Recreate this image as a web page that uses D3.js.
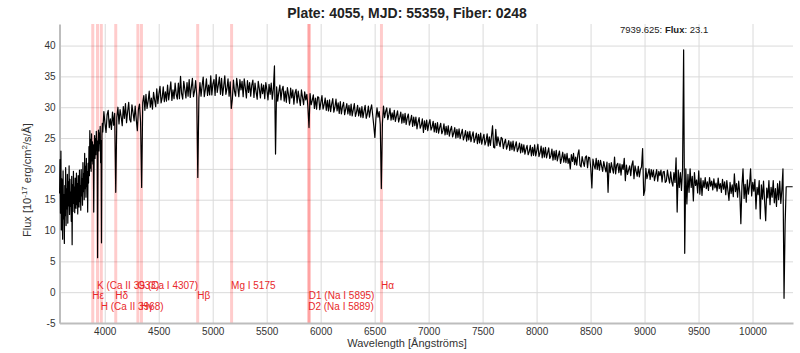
<!DOCTYPE html>
<html>
<head>
<meta charset="utf-8">
<script src="https://cdn.jsdelivr.net/npm/d3@7"></script>
<style>
  body { margin: 0; background: #fff; }
  svg { display: block; font-family: "Liberation Sans", Arial, sans-serif; }
</style>
</head>
<body>
<div id="chart"></div>
<script>
// blue end, sampled finer (Å): wave = blueWave0 + i * blueStep
const blueWave0 = 3582, blueStep = 4;
const blueFlux = [
  16.0, 21.5, 12.8, 22.9, 10.1, 18.4, 13.2, 8.6, 19.7, 11.9,
  15.8, 7.9, 17.3, 12.4, 20.2, 10.8, 16.7, 13.5, 19.1, 11.2,
  17.9, 14.0, 20.5, 12.6, 18.3, 13.9, 16.2, 11.5, 18.8, 7.7,
  17.4, 13.1, 19.6, 14.4, 17.0, 12.9, 18.5, 15.1, 13.6, 19.3,
  14.2, 17.6, 12.7, 18.9, 15.5, 13.8, 19.8, 14.7, 17.2, 13.3,
  19.9, 15.6, 18.4, 14.1, 21.0, 16.3, 19.2, 15.0, 22.5, 16.8,
  20.4, 15.4, 21.7, 17.1, 19.5, 13.0, 20.9, 17.7, 23.6, 18.9,
  26.2, 20.1, 24.8, 19.6, 25.7, 21.3, 24.4, 20.8, 23.9, 13.0,
  22.6, 25.4, 21.7, 24.9, 22.3, 26.1, 23.0, 24.5, 5.6, 23.8,
  26.3, 22.9, 25.8, 24.1, 26.9, 21.0, 24.6, 8.0, 25.3, 27.4
];

// rest of the spectrum (Å): wave = wave0 + i * dWave
const wave0 = 3982, dWave = 10;

// flux [1e-17 erg/cm2/s/Å], one row per 100 Å
const flux = [
  26.0, 29.3, 27.4, 25.9, 28.8, 29.5, 26.7, 28.1, 26.4, 29.2,
  27.1, 29.0, 16.2, 28.4, 30.0, 27.3, 29.6, 28.5, 27.0, 30.1,
  28.2, 30.6, 27.5, 29.3, 30.8, 28.0, 27.6, 30.4, 29.1, 27.8,
  30.2, 28.0, 26.2, 29.7, 30.5, 27.6, 17.0, 30.8, 31.9, 29.5,
  32.1, 29.8, 31.0, 32.6, 30.0, 31.5, 29.7, 32.4, 31.2, 30.1,
  33.0, 30.6, 32.2, 33.4, 30.7, 31.5, 33.3, 30.9, 32.5, 31.0,
  33.6, 31.2, 32.6, 34.1, 31.1, 32.8, 31.4, 33.9, 32.1, 31.3,
  33.9, 31.4, 35.0, 32.2, 31.3, 34.2, 32.9, 31.5, 34.0, 31.8,
  34.5, 31.6, 33.2, 34.7, 31.7, 32.6, 34.3, 31.9, 18.6, 31.5,
  34.0, 31.8, 33.5, 34.9, 31.7, 32.9, 34.6, 31.9, 33.6, 32.0,
  35.1, 32.0, 33.8, 34.5, 31.9, 35.3, 32.4, 33.6, 34.9, 32.1,
  34.7, 31.9, 33.4, 35.1, 32.1, 33.0, 34.6, 31.8, 34.1, 29.8,
  31.3, 34.4, 32.6, 31.8, 34.7, 33.3, 31.7, 34.5, 32.8, 34.2,
  31.7, 34.6, 33.2, 31.5, 34.3, 32.4, 34.0, 31.8, 33.6, 34.4,
  31.6, 33.9, 32.5, 31.3, 34.2, 33.0, 31.5, 33.8, 32.2, 33.6,
  31.4, 34.0, 32.8, 31.2, 33.7, 32.1, 33.9, 31.3, 33.0, 36.7,
  22.4, 33.3, 31.0, 32.4, 33.6, 31.2, 32.8, 33.4, 31.0, 32.6,
  30.8, 33.2, 32.0, 30.6, 33.1, 31.5, 32.8, 30.5, 32.3, 32.9,
  30.7, 32.6, 31.4, 30.3, 32.8, 31.6, 30.4, 32.5, 31.2, 32.1,
  30.0, 26.7, 32.2, 30.4, 31.1, 32.0, 29.8, 31.5, 29.7, 31.7,
  31.6, 29.6, 30.8, 31.9, 29.7, 30.4, 31.5, 29.5, 31.1, 29.4,
  31.2, 29.3, 30.5, 31.4, 29.2, 30.0, 31.3, 29.4, 30.7, 29.0,
  30.9, 28.9, 30.1, 30.8, 28.8, 29.7, 30.6, 28.9, 30.3, 28.7,
  30.5, 28.6, 29.6, 30.6, 28.5, 29.2, 30.3, 28.6, 29.9, 28.4,
  30.1, 28.3, 29.4, 30.3, 28.2, 28.9, 30.2, 28.4, 29.6, 30.4,
  28.7, 27.0, 25.1, 28.2, 29.9, 28.4, 29.3, 27.2, 16.8, 27.4,
  30.2, 28.3, 29.3, 29.9, 28.0, 28.8, 29.8, 27.9, 29.1, 28.0,
  29.5, 27.7, 28.6, 29.4, 27.6, 28.3, 29.2, 27.4, 28.9, 27.5,
  29.0, 27.2, 28.3, 28.9, 27.1, 27.8, 28.7, 26.9, 28.4, 27.0,
  28.4, 26.5, 27.6, 28.3, 26.6, 27.1, 28.1, 25.9, 27.8, 26.4,
  27.9, 26.2, 27.3, 28.0, 26.3, 26.8, 27.7, 26.0, 27.4, 25.9,
  27.5, 25.8, 26.7, 27.4, 25.7, 26.2, 27.3, 25.5, 26.9, 25.6,
  27.0, 25.3, 26.3, 26.9, 25.2, 25.8, 26.7, 25.0, 26.4, 25.1,
  26.5, 24.9, 25.7, 26.4, 24.7, 25.3, 26.2, 24.5, 26.0, 24.7,
  26.1, 24.4, 25.3, 26.0, 24.3, 24.9, 25.8, 24.1, 25.6, 24.2,
  25.8, 24.0, 24.9, 25.6, 23.9, 24.5, 25.7, 23.7, 25.2, 23.8,
  25.3, 27.0, 23.5, 23.4, 26.4, 23.8, 25.2, 24.4, 23.6, 25.1,
  24.9, 23.3, 24.2, 24.8, 23.2, 23.8, 24.6, 23.0, 24.4, 23.1,
  24.5, 22.9, 23.7, 24.4, 22.8, 23.3, 24.2, 22.6, 24.0, 22.7,
  23.9, 22.4, 23.2, 23.8, 22.3, 22.8, 23.8, 22.1, 23.5, 22.2,
  23.9, 22.1, 23.0, 24.0, 22.0, 22.6, 23.7, 21.8, 23.4, 21.9,
  23.5, 21.8, 22.6, 23.4, 21.7, 22.1, 23.2, 21.4, 22.9, 21.5,
  23.0, 21.3, 22.2, 22.9, 20.9, 21.7, 22.7, 21.1, 22.4, 21.0,
  22.5, 20.9, 21.7, 20.0, 22.3, 21.2, 22.5, 20.7, 21.9, 20.6,
  22.3, 23.1, 20.6, 20.3, 22.0, 21.1, 20.4, 21.9, 22.1, 20.2,
  21.9, 21.8, 20.1, 16.9, 21.6, 20.6, 20.0, 21.7, 19.9, 21.4,
  19.8, 21.4, 20.5, 19.6, 21.2, 20.3, 19.5, 21.1, 16.2, 20.9,
  19.4, 21.0, 20.1, 19.3, 21.9, 19.2, 20.6, 20.9, 19.4, 20.8,
  19.0, 20.7, 19.9, 21.7, 18.1, 20.6, 19.1, 19.8, 20.5, 18.9,
  20.6, 21.3, 18.4, 20.5, 19.6, 18.8, 20.4, 18.7, 19.9, 20.3,
  23.3, 15.7, 16.5, 20.1, 18.4, 19.2, 20.0, 18.3, 19.9, 18.7,
  19.8, 18.1, 19.0, 19.9, 18.0, 19.6, 18.9, 19.8, 17.9, 19.5,
  19.6, 17.8, 18.0, 19.8, 18.6, 17.7, 19.5, 17.9, 17.2, 19.4,
  17.8, 21.8, 13.0, 19.8, 17.0, 19.4, 16.5, 20.0, 39.3, 6.3,
  20.0, 14.3, 19.1, 16.2, 20.0, 17.0, 18.8, 14.8, 19.4, 17.3,
  18.2, 16.1, 19.7, 15.9, 18.5, 15.7, 18.1, 17.0, 18.6, 16.8,
  17.9, 16.5, 18.6, 17.2, 18.0, 16.6, 18.4, 16.9, 17.7, 16.4,
  18.5, 16.8, 17.6, 16.2, 18.3, 16.7, 17.9, 15.8, 18.1, 16.5,
  14.9, 17.8, 16.0, 17.4, 15.5, 19.2, 16.3, 17.6, 15.4, 18.0,
  16.1, 11.1, 17.2, 20.0, 15.2, 17.5, 14.6, 18.2, 15.9, 17.3,
  20.0, 15.6, 17.8, 16.4, 18.3, 13.5, 17.0, 15.8, 18.1, 11.9,
  17.4, 15.1, 18.0, 14.7, 11.6, 16.9, 15.3, 18.1, 14.2, 17.0,
  15.4, 18.1, 14.5, 16.8, 13.9, 17.6, 15.0, 18.0, 14.4, 16.6,
  20.0, -1.0, 11.1, 17.1, 17.1, 17.1, 17.1, 17.1, 17.1, 17.1
];

// marked spectral lines
const lineNames = ["H\u03b5", "K (Ca II 3933)", "H (Ca II 3968)", "H\u03b4", "G (Ca I 4307)", "H\u03b3",
                   "H\u03b2", "Mg I 5175", "D2 (Na I 5889)", "D1 (Na I 5895)", "H\u03b1"];
const lineWaves = [3889, 3933, 3968, 4102, 4307, 4340, 4861, 5175, 5889, 5895, 6563];

const xTicks = [4000, 4500, 5000, 5500, 6000, 6500, 7000, 7500, 8000, 8500, 9000, 9500, 10000];
const yTicks = [-5, 0, 5, 10, 15, 20, 25, 30, 35, 40];

const W = 800, H = 353;
const m = {top: 24, right: 7, bottom: 30, left: 59.5};

const data = blueFlux.map((f, i) => ({w: blueWave0 + i * blueStep, f}))
  .concat(flux.map((f, i) => ({w: wave0 + i * dWave, f})));

const x = d3.scaleLinear().domain([3581, 10375]).range([m.left, W - m.right]);
const y = d3.scaleLinear().domain([-5, 43.5]).range([H - m.bottom, m.top]);

const svg = d3.select("#chart").append("svg")
    .attr("width", W)
    .attr("height", H);

// grid
svg.append("g")
    .attr("transform", `translate(0,${H - m.bottom})`)
    .call(d3.axisBottom(x).tickValues(xTicks).tickSize(-(H - m.top - m.bottom)).tickFormat(""))
    .call(g => g.select(".domain").remove())
    .call(g => g.selectAll("line").attr("stroke", "#dadada"));

svg.append("g")
    .attr("transform", `translate(${m.left},0)`)
    .call(d3.axisLeft(y).tickValues(yTicks).tickSize(-(W - m.left - m.right)).tickFormat(""))
    .call(g => g.select(".domain").remove())
    .call(g => g.selectAll("line").attr("stroke", "#dadada"));

// line markers
svg.append("g")
  .selectAll("rect")
  .data(lineWaves)
  .join("rect")
    .attr("x", d => x(d) - 1.5)
    .attr("y", m.top)
    .attr("width", 3)
    .attr("height", H - m.top - m.bottom)
    .attr("fill", "rgba(255,0,0,0.2)");

// axes
svg.append("g")
    .attr("transform", `translate(0,${H - m.bottom})`)
    .call(d3.axisBottom(x).tickValues(xTicks).tickFormat(d => String(d)).tickSize(0).tickPadding(5).tickSizeOuter(0))
    .call(g => g.select(".domain").attr("stroke", "#bdbdbd").attr("stroke-width", 2))
    .call(g => g.selectAll("text").attr("font-size", 10).attr("fill", "#333").attr("font-family", null));

svg.append("g")
    .attr("transform", `translate(${m.left},0)`)
    .call(d3.axisLeft(y).tickValues(yTicks).tickFormat(d => String(d)).tickSize(0).tickPadding(4).tickSizeOuter(0))
    .call(g => g.select(".domain").attr("stroke", "#bdbdbd").attr("stroke-width", 2))
    .call(g => g.selectAll("text").attr("font-size", 10).attr("fill", "#333").attr("font-family", null));

// spectrum
svg.append("path")
    .datum(data)
    .attr("fill", "none")
    .attr("stroke", "#000")
    .attr("stroke-width", 1.2)
    .attr("stroke-linejoin", "round")
    .attr("d", d3.line().x(d => x(d.w)).y(d => y(d.f)));

// line labels, staggered over three rows
const rowOffset = [7, -3, 17.5];
svg.append("g")
    .attr("font-size", 10)
    .attr("fill", "#e8282b")
  .selectAll("text")
  .data(lineNames)
  .join("text")
    .attr("x", (d, i) => x(lineWaves[i]) - 0.5)
    .attr("y", (d, i) => y(0) + rowOffset[i % 3])
    .text(d => d);

// title
svg.append("text")
    .attr("x", 407)
    .attr("y", 17.5)
    .attr("text-anchor", "middle")
    .attr("font-size", 14)
    .attr("font-weight", "bold")
    .attr("fill", "#222")
    .text("Plate: 4055, MJD: 55359, Fiber: 0248");

// hover readout
const hover = svg.append("text")
    .attr("x", 620)
    .attr("y", 33)
    .attr("font-size", 9.5)
    .attr("fill", "#222");
hover.append("tspan").text("7939.625: ");
hover.append("tspan").attr("font-weight", "bold").text("Flux");
hover.append("tspan").text(": 23.1");

// axis titles
svg.append("text")
    .attr("x", 407)
    .attr("y", 347)
    .attr("text-anchor", "middle")
    .attr("font-size", 11)
    .attr("fill", "#333")
    .text("Wavelength [\u00c5ngstr\u00f6ms]");

const yl = svg.append("text")
    .attr("transform", "rotate(-90)")
    .attr("x", -180)
    .attr("y", 31)
    .attr("text-anchor", "middle")
    .attr("font-size", 11)
    .attr("fill", "#333");
yl.append("tspan").text("Flux [10");
yl.append("tspan").attr("font-size", 8).attr("dy", -4).text("-17");
yl.append("tspan").attr("dy", 4).text(" erg/cm");
yl.append("tspan").attr("font-size", 8).attr("dy", -4).text("2");
yl.append("tspan").attr("dy", 4).text("/s/\u00c5]");
</script>
</body>
</html>
